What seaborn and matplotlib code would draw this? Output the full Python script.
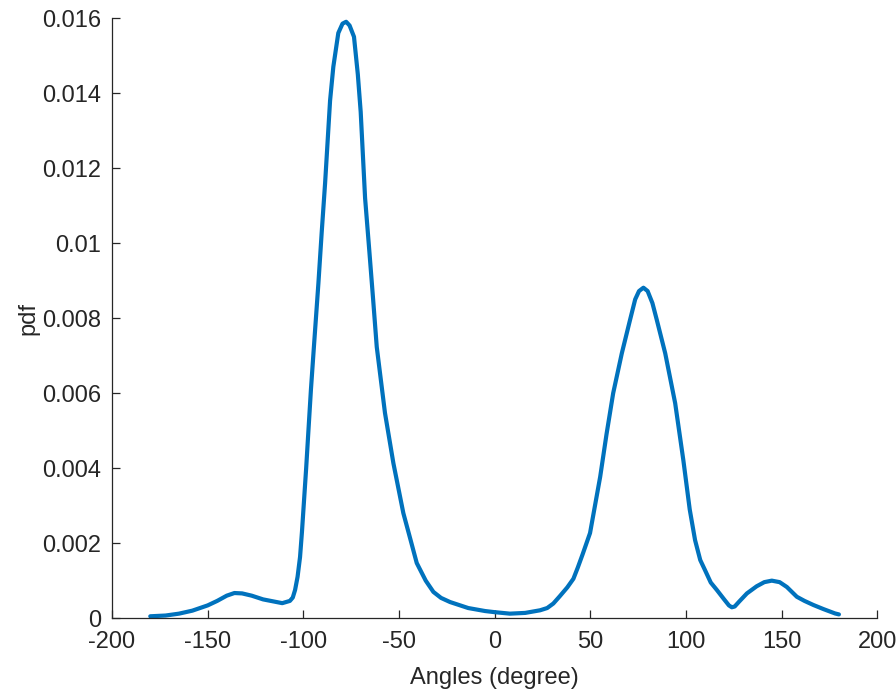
import matplotlib
matplotlib.use("Agg")
import matplotlib.pyplot as plt
import seaborn as sns
import pandas as pd

# Estimated probability density of the angle distribution
angles = [-180, -172, -165, -158, -150, -145, -140, -136, -132, -127, -121, -115,
          -111, -107, -105.5, -104.3, -103, -101.7, -100.7, -99.6, -98.5, -97.4,
          -96, -94.5, -92.1, -90.4, -88.6, -86, -84.3, -81.7, -79.5, -77.6, -75.8,
          -73.5, -71.5, -70, -67.7, -65.5, -63.5, -61.6, -57.3, -52.9, -47.7, -44,
          -40.7, -36, -32, -28, -23.3, -13.8, -5, 0, 8, 16, 23.8, 27.5, 30.7, 34,
          38, 41.2, 43.5, 46, 49.9, 55.2, 58.5, 62, 66.5, 70.8, 73.5, 75.5, 77.8,
          80, 82.5, 84.8, 89.2, 94.4, 98.7, 102, 104.8, 107.5, 110, 113, 116.2,
          120, 122.5, 124, 125.5, 128, 131.9, 137, 141, 144.9, 149, 152.8, 158,
          162, 166.7, 172, 178, 180]
pdf = [0.00005, 0.00007, 0.00012, 0.00020, 0.00034, 0.00046, 0.00060, 0.00067,
       0.00066, 0.00060, 0.00050, 0.00044, 0.00040, 0.00046, 0.00055, 0.00075,
       0.00110, 0.00163, 0.00230, 0.00315, 0.00400, 0.00493, 0.00610, 0.00720,
       0.00893, 0.01027, 0.01160, 0.01380, 0.01470, 0.01560, 0.01585, 0.01590,
       0.01580, 0.01550, 0.01450, 0.01350, 0.01120, 0.00980, 0.00850, 0.00723,
       0.00547, 0.00413, 0.00280, 0.00210, 0.00147, 0.00100, 0.00070, 0.00054,
       0.00043, 0.00027, 0.00019, 0.00016, 0.00012, 0.00014, 0.00021, 0.00027,
       0.00039, 0.00058, 0.00082, 0.00105, 0.00135, 0.00170, 0.00227, 0.00377,
       0.00490, 0.00600, 0.00706, 0.00795, 0.00850, 0.00872, 0.00881, 0.00872,
       0.00840, 0.00795, 0.00706, 0.00573, 0.00420, 0.00290, 0.00208, 0.00155,
       0.00128, 0.00095, 0.00075, 0.00050, 0.00034, 0.00029, 0.00031, 0.00045,
       0.00066, 0.00085, 0.00096, 0.00100, 0.00096, 0.00083, 0.00057, 0.00046,
       0.00035, 0.00024, 0.000125, 0.00010]

x_ticks = [-200, -150, -100, -50, 0, 50, 100, 150, 200]
y_ticks = [0, 0.002, 0.004, 0.006, 0.008, 0.01, 0.012, 0.014, 0.016]
y_tick_labels = ["0", "0.002", "0.004", "0.006", "0.008", "0.01", "0.012", "0.014", "0.016"]

sns.set_style("ticks")
plt.rcParams["font.family"] = ["Liberation Sans", "DejaVu Sans"]

df = pd.DataFrame({"angle": angles, "pdf": pdf})

fig = plt.figure(figsize=(8.96, 6.93), dpi=100)
ax = fig.add_axes([0.125, 0.108, 0.854, 0.866])
sns.lineplot(data=df, x="angle", y="pdf", ax=ax, color="#0072BD", linewidth=3.0)
for ln in ax.lines:
    ln.set_solid_joinstyle("round")

ax.set_xlim(-200, 200)
ax.set_ylim(0, 0.016)
ax.set_xticks(x_ticks)
ax.set_xticklabels([str(t) for t in x_ticks])
ax.set_yticks(y_ticks)
ax.set_yticklabels(y_tick_labels)

for side in ["top", "right"]:
    ax.spines[side].set_visible(False)
for side in ["left", "bottom"]:
    ax.spines[side].set_color("#262626")
    ax.spines[side].set_linewidth(0.9)

ax.tick_params(direction="in", length=6, width=0.9, color="#262626",
               labelsize=17, labelcolor="#262626")
ax.tick_params(axis="x", pad=9)
ax.tick_params(axis="y", pad=8)
ax.set_xlabel("Angles (degree)", fontsize=17, color="#262626", labelpad=10)
ax.set_ylabel("pdf", fontsize=17, color="#262626", labelpad=2)

fig.savefig("out.png", dpi=100)
